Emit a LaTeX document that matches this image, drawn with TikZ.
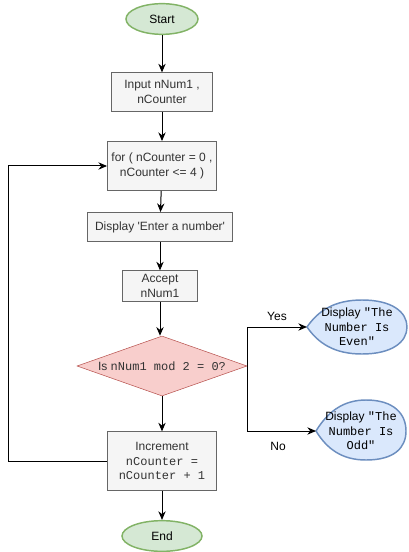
\documentclass[tikz,border=0pt]{standalone}
\usepackage{fontspec}
\setmainfont{Liberation Sans}
\setmonofont{Liberation Mono}
\usepackage{tikz}
\usetikzlibrary{arrows.meta, positioning, shapes, calc}
\usepackage{xcolor}

\definecolor{procfill}{HTML}{F5F5F5}
\definecolor{procline}{HTML}{666666}
\definecolor{proctext}{HTML}{333333}
\definecolor{termfill}{HTML}{D5E8D4}
\definecolor{termline}{HTML}{82B366}
\definecolor{decfill}{HTML}{F8CECC}
\definecolor{decline}{HTML}{B85450}
\definecolor{dispfill}{HTML}{DAE8FC}
\definecolor{displine}{HTML}{6C8EBF}

\begin{document}
\begin{tikzpicture}[
        x=0.75pt, y=-0.75pt,
        font=\fontsize{9}{11}\selectfont,
        proc/.style={rectangle, draw=procline, fill=procfill, text=proctext, align=center, inner sep=0pt},
        term/.style={ellipse, draw=termline, fill=termfill, line width=1.1pt, inner sep=0pt},
        dec/.style={diamond, draw=decline, fill=decfill, text=proctext, inner sep=0pt, shape aspect=2.5},
        disp/.style={draw=displine, fill=dispfill, line width=1.1pt},
        flow/.style={-{Stealth[length=6.5pt, width=5.5pt]}, line width=0.75pt}
    ]
        \useasboundingbox (0,0) rectangle (409,552);

        % display shapes are drawn first, text on top
        \draw[disp] (307,327) .. controls (318,311) and (334,300) .. (362,300)
            .. controls (392,300) and (407,312) .. (407,327)
            .. controls (407,342) and (392,354) .. (362,354)
            .. controls (334,354) and (318,343) .. (307,327) -- cycle;
        \draw[disp] (316,431) .. controls (327,413) and (342,400) .. (366,400)
            .. controls (394,400) and (406,414) .. (406,431)
            .. controls (406,448) and (394,460) .. (366,460)
            .. controls (342,460) and (327,449) .. (316,431) -- cycle;

        \node[term, minimum width=54pt, minimum height=23pt] (start) at (162,19) {Start};
        \node[proc, minimum width=76pt, minimum height=29pt] (input) at (162,92) {Input nNum1 ,\\nCounter};
        \node[proc, minimum width=82pt, minimum height=37pt] (loop) at (162,166) {for ( nCounter = 0 ,\\nCounter <= 4 )};
        \node[proc, minimum width=109pt, minimum height=22pt] (show) at (160,227) {Display \textquotesingle Enter a number\textquotesingle};
        \node[proc, minimum width=56pt, minimum height=23pt] (accept) at (160,286) {Accept\\nNum1};
        \node[dec, minimum width=127.5pt] (check) at (162,366) {Is \texttt{nNum1 mod 2 = 0?}};
        \node[proc, minimum width=82pt, minimum height=44pt] (incr) at (162,461) {Increment\\\texttt{nCounter =}\\\texttt{nCounter + 1}};
        \node[term, minimum width=60pt, minimum height=23pt] (stop) at (162,536) {End};

        \node[inner sep=0pt, align=center, text=black] (even) at (357,327) {Display \texttt{"The}\\\texttt{Number Is}\\\texttt{Even"}};
        \node[inner sep=0pt, align=center, text=black] (odd) at (361,431) {Display \texttt{"The}\\\texttt{Number Is}\\\texttt{Odd"}};
        \coordinate (evenin) at (307,327);
        \coordinate (oddin) at (316,431);

        \node (yes) at (277,316) {Yes};
        \node (no) at (278,446) {No};

        \draw[flow] (start) -- (input);
        \draw[flow] (input) -- (loop);
        \draw[flow] (loop) -- (show);
        \draw[flow] (show) -- (show |- accept.north);
        \draw[flow] (accept) -- (accept |- check.north);
        \draw[flow] (check) -- (incr);
        \draw[flow] (incr) -- (stop);
        \draw[flow] (incr.west) -- ++(-99,0) |- (loop.west);
        \draw[flow] (check.east) |- (evenin);
        \draw[flow] (check.east) |- (oddin);
    \end{tikzpicture}
\end{document}
